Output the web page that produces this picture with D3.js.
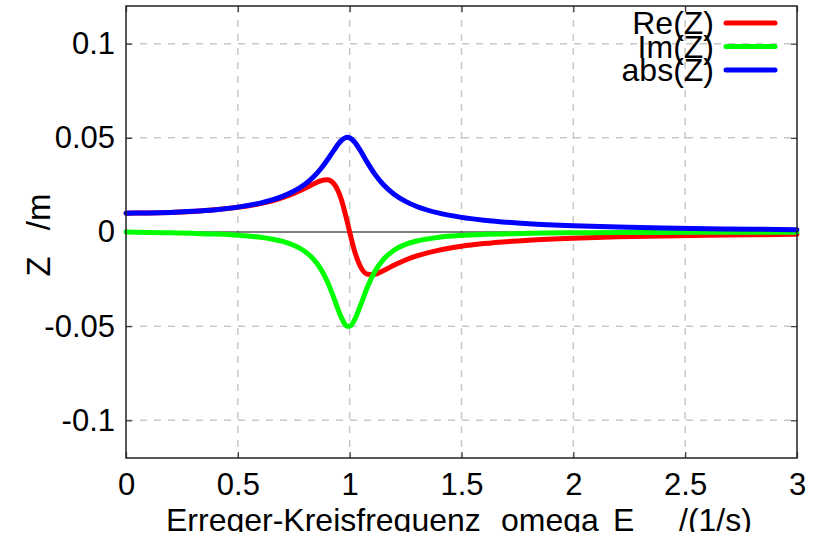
<!DOCTYPE html>
<html>
<head>
<meta charset="utf-8">
<script src="https://cdn.jsdelivr.net/npm/d3@7"></script>
<style>
  body { margin: 0; background: #fff; }
  text { font-family: "Liberation Sans", Arial, sans-serif; fill: #000; }
</style>
</head>
<body>
<div id="chart"></div>
<script>
// omega_E values (1/s) and the three curves (m)
const omega = [0, 0.1, 0.2, 0.3, 0.4, 0.5, 0.6, 0.65, 0.7, 0.75, 0.8, 0.84, 0.87, 0.9, 0.93, 0.96, 0.99, 1.0,
               1.02, 1.05, 1.08, 1.11, 1.15, 1.2, 1.25, 1.3, 1.4, 1.5, 1.6, 1.8, 2.0, 2.2, 2.4, 2.6, 2.8, 3.0];
const reZ = [0.0100, 0.01010, 0.01040, 0.01094, 0.01180, 0.01310, 0.01509, 0.01648, 0.01823, 0.02045, 0.02320, 0.02562, 0.02720, 0.02774, 0.02556, 0.01823, 0.00503, 0.0,
             -0.00934, -0.01877, -0.02238, -0.02250, -0.02055, -0.01752, -0.01485, -0.01269, -0.00960, -0.00756, -0.00615, -0.00435, -0.00328, -0.00257, -0.00208, -0.00172, -0.00145, -0.00124];
const imZ = [0.0, -0.00020, -0.00043, -0.00072, -0.00112, -0.00175, -0.00283, -0.00371, -0.00501, -0.00701, -0.01031, -0.01462, -0.01947, -0.02628, -0.03520, -0.04464, -0.05000, -0.05000,
             -0.04717, -0.03846, -0.02905, -0.02152, -0.01466, -0.00955, -0.00660, -0.00478, -0.00280, -0.00182, -0.00126, -0.00070, -0.00044, -0.00030, -0.00021, -0.00016, -0.00012, -0.00009];
const absZ = [0.0100, 0.01010, 0.01041, 0.01097, 0.01185, 0.01322, 0.01536, 0.01689, 0.01891, 0.02162, 0.02538, 0.02950, 0.03345, 0.03821, 0.04350, 0.04822, 0.05025, 0.05000,
              0.04809, 0.04279, 0.03668, 0.03114, 0.02525, 0.01995, 0.01625, 0.01356, 0.01000, 0.00778, 0.00628, 0.00441, 0.00330, 0.00259, 0.00209, 0.00173, 0.00146, 0.00125];

const seriesNames = ["Re(Z)", "Im(Z)", "abs(Z)"];
const seriesColors = ["#ff0000", "#00ff00", "#0000ff"];
const xTicks = [0, 0.5, 1, 1.5, 2, 2.5, 3];
const yTicks = [-0.1, -0.05, 0, 0.05, 0.1];

const width = 825, height = 539;
const margin = {top: 6, right: 28, bottom: 81, left: 126};
const w = width - margin.left - margin.right;
const h = height - margin.top - margin.bottom;

const svg = d3.select("#chart").append("svg")
  .attr("width", width)
  .attr("height", height);

// the x title is cut just under its baseline, as in the original
svg.append("defs").append("clipPath").attr("id", "xtclip")
  .append("rect").attr("x", 0).attr("y", 0).attr("width", width).attr("height", 532);

const g = svg.append("g")
  .attr("transform", "translate(" + margin.left + "," + margin.top + ")");

const x = d3.scaleLinear().domain([0, 3]).range([0, w]);
const y = d3.scaleLinear().domain([-0.12, 0.12]).range([h, 0]);

// dashed grid
g.append("g").selectAll("line")
  .data(xTicks.filter(d => d > 0 && d < 3))
  .join("line")
  .attr("x1", d => x(d)).attr("x2", d => x(d))
  .attr("y1", 0).attr("y2", h)
  .attr("stroke", "#c8c8c8").attr("stroke-width", 1.5)
  .attr("stroke-dasharray", "7,7");

g.append("g").selectAll("line")
  .data(yTicks.filter(d => d !== 0))
  .join("line")
  .attr("x1", 0).attr("x2", w)
  .attr("y1", d => y(d)).attr("y2", d => y(d))
  .attr("stroke", "#c8c8c8").attr("stroke-width", 1.5)
  .attr("stroke-dasharray", "7,7");

// zero axis
g.append("line")
  .attr("x1", 0).attr("x2", w)
  .attr("y1", y(0)).attr("y2", y(0))
  .attr("stroke", "#000").attr("stroke-width", 1);

// axes with inward ticks
const fmt = d => d.toString();
const xAxis = g.append("g")
  .attr("transform", "translate(0," + h + ")")
  .call(d3.axisBottom(x).tickValues(xTicks).tickSize(-6).tickPadding(37).tickFormat(fmt));
const xAxisTop = g.append("g")
  .call(d3.axisTop(x).tickValues(xTicks).tickSize(-6).tickFormat(""));
const yAxis = g.append("g")
  .call(d3.axisLeft(y).tickValues(yTicks).tickSize(-6).tickPadding(11).tickFormat(fmt));
const yAxisRight = g.append("g")
  .attr("transform", "translate(" + w + ",0)")
  .call(d3.axisRight(y).tickValues(yTicks).tickSize(-6).tickFormat(""));

[xAxis, xAxisTop, yAxis, yAxisRight].forEach(a => {
  a.select(".domain").remove();
  a.selectAll(".tick line").attr("stroke", "#333").attr("stroke-width", 1.2);
  a.selectAll("text").style("font-size", "31px")
    .style("font-family", "'Liberation Sans', Arial, sans-serif").attr("fill", "#000");
});
xAxis.selectAll("text").attr("dy", "0");

// curves
const rows = omega.map((o, i) => ({o: o, v: [reZ[i], imZ[i], absZ[i]]}));

seriesNames.forEach((name, k) => {
  const line = d3.line()
    .x(d => x(d.o))
    .y(d => y(d.v[k]))
    .curve(d3.curveMonotoneX);
  g.append("path")
    .datum(rows)
    .attr("d", line)
    .attr("fill", "none")
    .attr("stroke", seriesColors[k])
    .attr("stroke-width", 5)
    .attr("stroke-linejoin", "round")
    .attr("stroke-linecap", "round");
});

// frame
g.append("rect")
  .attr("x", 0).attr("y", 0)
  .attr("width", w).attr("height", h)
  .attr("fill", "none")
  .attr("stroke", "#222").attr("stroke-width", 1.5);

// legend
const legend = g.append("g");
seriesNames.forEach((name, k) => {
  const ly = 17 + k * 23.5;
  legend.append("text")
    .attr("x", 714 - margin.left)
    .attr("y", ly)
    .attr("dy", "0.35em")
    .attr("text-anchor", "end")
    .style("font-size", "32px")
    .text(name);
  legend.append("line")
    .attr("x1", 726 - margin.left).attr("x2", 775 - margin.left)
    .attr("y1", ly).attr("y2", ly)
    .attr("stroke", seriesColors[k])
    .attr("stroke-width", 5)
    .attr("stroke-linecap", "round");
});

// axis titles
const xt = svg.append("text")
  .attr("y", 531)
  .attr("clip-path", "url(#xtclip)")
  .style("font-size", "32px");
xt.append("tspan").attr("x", 166).text("Erreger-Kreisfrequenz");
xt.append("tspan").attr("x", 501).text("omega");
xt.append("tspan").attr("x", 613).text("E");
xt.append("tspan").attr("x", 679).text("/(1/s)");

const yt = svg.append("text")
  .attr("transform", "translate(50," + (margin.top + h / 2 + 3) + ") rotate(-90)")
  .attr("text-anchor", "middle")
  .style("font-size", "33px");
yt.append("tspan").text("Z");
yt.append("tspan").attr("dx", 26).text("/m");
</script>
</body>
</html>
